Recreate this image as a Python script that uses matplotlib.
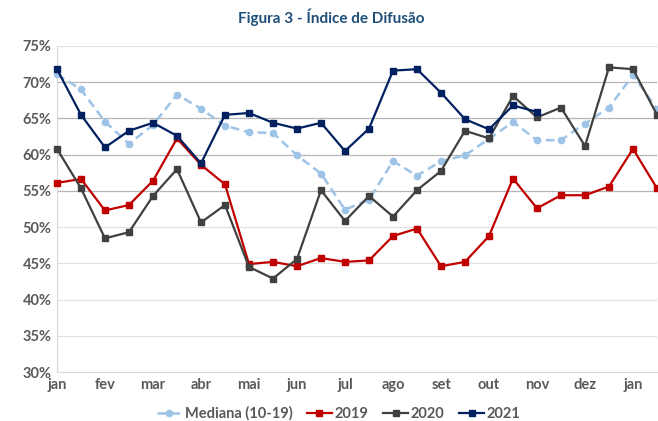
import matplotlib
matplotlib.use("Agg")
import matplotlib.pyplot as plt
from matplotlib.ticker import FuncFormatter

plt.rcParams['font.family'] = ['Lato', 'DejaVu Sans']

month_labels = ["jan", "fev", "mar", "abr", "mai", "jun", "jul", "ago", "set", "out", "nov", "dez", "jan"]

mediana = [71.1, 69.0, 64.55, 61.5, 64.1, 68.3, 66.35, 64.0, 63.1, 63.0, 59.9, 57.4,
           52.4, 53.8, 59.1, 57.1, 59.1, 59.9, 62.2, 64.5, 62.0, 62.0, 64.3, 66.5, 71.0, 66.3]
s2019 = [56.1, 56.65, 52.3, 53.05, 56.4, 62.25, 58.6, 55.9, 44.9, 45.2, 44.6, 45.73,
         45.2, 45.4, 48.77, 49.8, 44.6, 45.2, 48.77, 56.7, 52.6, 54.4, 54.4, 55.6, 60.8, 55.35]
s2020 = [60.8, 55.35, 48.45, 49.3, 54.3, 58.0, 50.65, 53.05, 44.5, 42.9, 45.6, 55.1,
         50.85, 54.3, 51.45, 55.1, 57.75, 63.3, 62.25, 68.1, 65.15, 66.5, 61.2, 72.05, 71.8, 65.5]
s2021 = [71.8, 65.5, 61.0, 63.3, 64.4, 62.6, 58.8, 65.5, 65.75, 64.4, 63.6, 64.4,
         60.5, 63.6, 71.6, 71.8, 68.55, 64.9, 63.5, 66.8, 65.9]

fig = plt.figure(figsize=(6.58, 4.21), dpi=100)
ax = fig.add_axes([57/658, 1-372/421, 600/658, 326/421])

x_med = list(range(len(mediana)))
x19 = list(range(len(s2019)))
x20 = list(range(len(s2020)))
x21 = list(range(len(s2021)))

ax.plot(x_med, mediana, color="#9DC3E6", lw=1.8, ls=(0, (3.5, 2)), marker="o", ms=4.5,
        label="Mediana (10-19)", clip_on=False, zorder=3)
ax.plot(x19, s2019, color="#C00000", lw=1.6, marker="s", ms=4.2, label="2019", clip_on=False, zorder=4)
ax.plot(x20, s2020, color="#404040", lw=1.6, marker="s", ms=4.2, label="2020", clip_on=False, zorder=4)
ax.plot(x21, s2021, color="#002060", lw=1.6, marker="s", ms=4.2, label="2021", clip_on=False, zorder=5)

ax.set_xlim(0, 25)
ax.set_ylim(30, 75)
ax.set_yticks(range(30, 76, 5))
ax.yaxis.set_major_formatter(FuncFormatter(lambda v, p: f"{int(v)}%"))
ax.set_xticks(range(0, 25, 2))
ax.set_xticklabels(month_labels)

for v in range(35, 76, 5):
    if 55 <= v <= 70:
        ax.axhline(v, color="#8c8c8c", lw=0.9, ls=(0, (1, 0.6)), zorder=1)
    else:
        ax.axhline(v, color="#d0d0d0", lw=0.9, ls=(0, (1, 0.6)), zorder=1)

for s in ["top", "right"]:
    ax.spines[s].set_visible(False)
ax.spines["left"].set_color("#d9d9d9")
ax.spines["bottom"].set_color("#d9d9d9")
ax.tick_params(length=0, colors="#595959", labelsize=10.5, pad=4)
for lab in ax.get_xticklabels() + ax.get_yticklabels():
    lab.set_fontweight("bold")

fig.text(0.503, 0.958, "Figura 3 - Índice de Difusão", ha="center", va="center",
         fontsize=11, fontweight="bold", color="#1F4E79")

leg = fig.legend(loc="center", bbox_to_anchor=(0.515, 0.018), ncol=4, frameon=False,
                 fontsize=10.5, handlelength=1.7, columnspacing=1.0, handletextpad=0.2)
for t in leg.get_texts():
    t.set_color("#595959")
    t.set_fontweight("bold")

fig.savefig("out.png", dpi=100)
